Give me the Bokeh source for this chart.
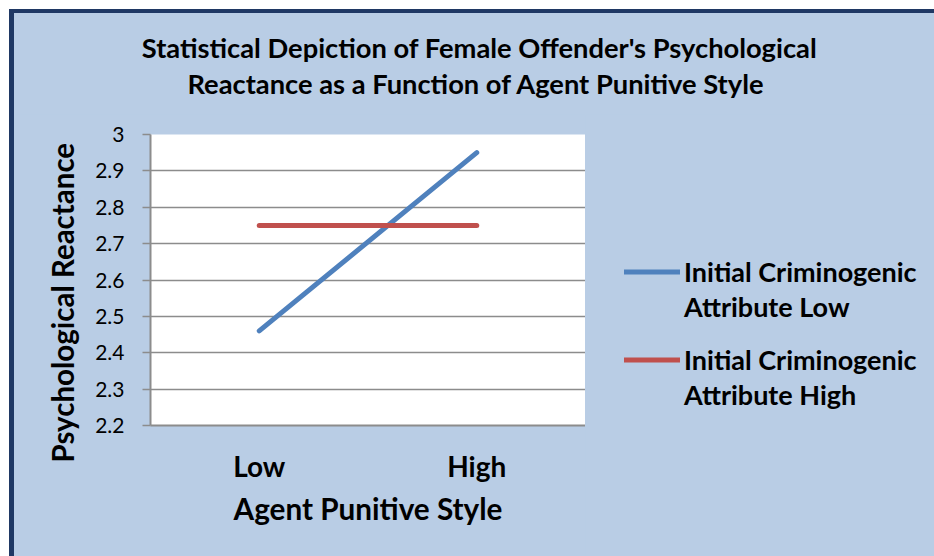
from bokeh.plotting import figure
from bokeh.layouts import column, row
from bokeh.models import Range1d, Label, Legend, LegendItem, FixedTicker, ColumnDataSource, Title
from bokeh.embed import file_html
from bokeh.resources import INLINE

# ---- data ----
categories = ["Low", "High"]
crim_low = [2.46, 2.95]    # Initial Criminogenic Attribute Low
crim_high = [2.75, 2.75]   # Initial Criminogenic Attribute High
y_ticks = [2.2, 2.3, 2.4, 2.5, 2.6, 2.7, 2.8, 2.9, 3.0]
y_tick_labels = ["2.2", "2.3", "2.4", "2.5", "2.6", "2.7", "2.8", "2.9", "3"]
title_lines = ["Statistical Depiction of Female Offender's Psychological",
               "Reactance  as a Function of Agent Punitive Style"]
y_title = "Psychological Reactance"
x_title = "Agent Punitive Style"
legend_lines = [("Initial Criminogenic", "Attribute Low"),
                ("Initial Criminogenic", "Attribute High")]

BG = "#B9CDE5"
NAVY = "#1F3864"
BLUE = "#4F81BD"
RED = "#C0504D"
GRID = "#8C8C8C"
FONT = "Lato"

TOTAL_W, TITLE_H, BODY_H = 920, 101, 442
MAIN_W = 571
LEG_W = TOTAL_W - MAIN_W

src = ColumnDataSource(dict(x=categories, lo=crim_low, hi=crim_high))


def styled(f):
    f.background_fill_color = BG
    f.border_fill_color = BG
    f.outline_line_color = None
    f.xgrid.grid_line_color = None
    f.ygrid.grid_line_color = None
    return f


# ---- title panel ----
pt = styled(figure(width=TOTAL_W, height=TITLE_H, output_backend="svg", toolbar_location=None,
                   x_axis_location=None, y_axis_location=None,
                   x_range=Range1d(0, 1), y_range=Range1d(0, 1),
                   min_border_left=0, min_border_right=0, min_border_top=0, min_border_bottom=0))
for txt, yy in zip(title_lines, [67, 31]):
    pt.add_layout(Label(x=465, y=yy, x_units="screen", y_units="screen", text=txt,
                        text_font=FONT, text_font_style="bold", text_font_size="27.3px",
                        text_align="center", text_baseline="middle", text_color="black"))

# ---- main chart ----
p = figure(x_range=categories, y_range=Range1d(2.2, 3.0), width=MAIN_W, height=BODY_H,
           output_backend="svg", toolbar_location=None,
           min_border_left=136, min_border_right=0, min_border_top=20, min_border_bottom=131)
p.background_fill_color = "white"
p.border_fill_color = BG
p.outline_line_color = None

p.line("x", "lo", source=src, line_color=BLUE, line_width=5, line_cap="round")
p.line("x", "hi", source=src, line_color=RED, line_width=5, line_cap="round")

p.yaxis.ticker = FixedTicker(ticks=y_ticks)
p.yaxis.major_label_overrides = dict(zip(y_ticks, y_tick_labels))
p.yaxis.axis_line_color = GRID
p.yaxis.axis_line_width = 2
p.yaxis.major_tick_line_color = GRID
p.yaxis.major_tick_line_width = 1.5
p.yaxis.major_tick_out = 8
p.yaxis.major_tick_in = 0
p.yaxis.minor_tick_line_color = None
p.yaxis.major_label_text_font = FONT
p.yaxis.major_label_text_font_size = "21px"
p.yaxis.major_label_text_color = "black"
p.yaxis.major_label_standoff = 18

# y-axis title (placed lower than centre, as in the original)
p.add_layout(Title(text=y_title, align="left", offset=-37, vertical_align="bottom",
                   standoff=26, text_font=FONT, text_font_style="bold",
                   text_font_size="29.5px", text_color="black"), "left")

p.xaxis.axis_line_color = GRID
p.xaxis.axis_line_width = 2
p.xaxis.major_tick_line_color = None
p.xaxis.major_tick_out = 0
p.xaxis.major_tick_in = 0
p.xaxis.major_label_text_font = FONT
p.xaxis.major_label_text_font_style = "bold"
p.xaxis.major_label_text_font_size = "28px"
p.xaxis.major_label_text_color = "black"
p.xaxis.major_label_standoff = 23
p.xaxis.axis_label = x_title
p.xaxis.axis_label_text_font = FONT
p.xaxis.axis_label_text_font_style = "bold"
p.xaxis.axis_label_text_font_size = "29.7px"
p.xaxis.axis_label_text_color = "black"
p.xaxis.axis_label_standoff = 5

p.xgrid.grid_line_color = None
p.ygrid.ticker = FixedTicker(ticks=y_ticks)
p.ygrid.grid_line_color = GRID
p.ygrid.grid_line_width = 1.5

# ---- legend panel (frame aligned with the chart frame; series drawn off-view) ----
pl = styled(figure(width=LEG_W, height=BODY_H, output_backend="svg", toolbar_location=None,
                   x_axis_location=None, y_axis_location=None,
                   x_range=categories, y_range=Range1d(0, 1),
                   min_border_left=0, min_border_right=0, min_border_top=0, min_border_bottom=0))
g_lo = pl.line("x", "lo", source=src, line_color=BLUE, line_width=5, line_cap="round")
g_hi = pl.line("x", "hi", source=src, line_color=RED, line_width=5, line_cap="round")
g_blank = pl.line("x", "hi", source=src, line_alpha=0)
for (l1, l2), g, vy in zip(legend_lines, [g_lo, g_hi], [101.5, 13.5]):
    lg = Legend(items=[LegendItem(label=l1, renderers=[g]),
                       LegendItem(label=l2, renderers=[g_blank])],
                location=(39, vy), orientation="vertical",
                glyph_width=56, glyph_height=35, label_height=35, spacing=0,
                label_standoff=4, padding=0, margin=0,
                border_line_color=None, background_fill_alpha=0,
                label_text_font=FONT, label_text_font_style="bold",
                label_text_font_size="27px", label_text_color="black",
                label_text_baseline="middle")
    pl.add_layout(lg, "center")

body = row(p, pl)
body.styles = {"background-color": BG}
layout = column(pt, body)
layout.styles = {"margin-left": "9px", "margin-top": "9px", "background-color": BG,
                 "border-top": f"4px solid {NAVY}", "border-left": f"5px solid {NAVY}"}

open("out.html", "w").write(file_html(layout, INLINE))
